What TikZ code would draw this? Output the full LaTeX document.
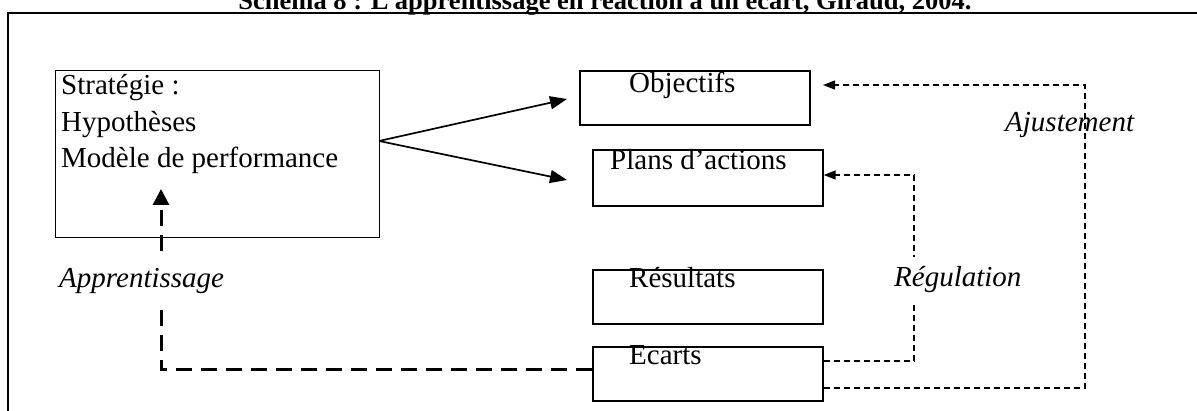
\documentclass[tikz,border=0pt]{standalone}
\usepackage{fontspec}
\setmainfont{Liberation Serif}
\usetikzlibrary{arrows.meta}
\begin{document}
\begin{tikzpicture}[x=1pt,y=-1pt,
  txt/.style={inner sep=0pt, anchor=base west, font=\fontsize{29}{35}\selectfont},
  itxt/.style={inner xsep=0pt, anchor=base west, font=\fontsize{29}{35}\selectfont\itshape},
  box/.style={draw, line width=1.7pt, inner sep=0pt, anchor=north west},
  solidarr/.style={line width=1.7pt, -{Triangle[length=17pt,width=13pt]}},
  thindash/.style={line width=1.3pt, dash pattern=on 6.5pt off 3.5pt, -{Triangle[length=12pt,width=9pt]}},
  thickdash/.style={line width=3pt, dash pattern=on 16pt off 9pt, -{Triangle[length=16pt,width=16pt]}}
]
\useasboundingbox (0,0) rectangle (1197,411);
\clip (0,0) rectangle (1197,411);
\fill[white] (0,0) rectangle (1197,411);

% title (cut at the top) and outer frame
\node[font=\fontsize{26.5}{30}\selectfont\bfseries, inner sep=0pt, anchor=base] (title) at (605,10)
  {Schéma 8 : L’apprentissage en réaction à un écart, Giraud, 2004.};
\draw[line width=2.3pt] (8.3,430) -- (8.3,13) -- (1220,13);

% boxes
\node[box, line width=1.2pt, minimum width=324pt, minimum height=167pt] (strat) at (55,70) {};
\node[box, minimum width=230pt, minimum height=54pt] (obj) at (579,70) {};
\node[box, minimum width=230pt, minimum height=56pt] (plans) at (592,149) {};
\node[box, minimum width=230pt, minimum height=54pt] (res) at (592,269) {};
\node[box, minimum width=230pt, minimum height=54pt] (ec) at (592,346) {};

% box texts
\node[txt] (t1) at (61,95) {Stratégie :};
\node[txt] (t2) at (61,132) {Hypothèses};
\node[txt] (t3) at (61,168) {Modèle de performance};
\node[txt] (tobj) at (629,93) {Objectifs};
\node[txt] (tplans) at (610,170) {Plans d’actions};
\node[txt] (tres) at (629,288) {Résultats};
\node[txt] (tec) at (629,365) {Ecarts};

% coordinates for connector ends
\coordinate (sout) at (379,141);
\coordinate (tipobj) at (567,99);
\coordinate (tipplans) at (567,180);
\coordinate (regB) at (914,361);
\coordinate (regT) at (914,175);
\coordinate (ajB) at (1085,388);
\coordinate (ajT) at (1085,85);
\coordinate (tipaj) at (823,85);
\coordinate (appB) at (161,370);
\coordinate (apptip) at (161,189);

% connectors
\draw[solidarr] (sout) -- (tipobj);
\draw[solidarr] (sout) -- (tipplans);
\draw[thindash] (ec.east |- regB) -- (regB) -- (regT) -- (plans.east |- regT);
\draw[thindash] (ec.east |- ajB) -- (ajB) -- (ajT) -- (tipaj);
\draw[thickdash] (ec.west |- appB) -- (appB) -- (apptip);

% labels
\node[itxt, fill=white, inner ysep=12pt] (lapp) at (59,288) {Apprentissage};
\node[itxt, fill=white, inner ysep=10pt] (lreg) at (894,287) {Régulation};
\node[itxt, inner ysep=0pt] (laj) at (1005,132) {Ajustement};
\end{tikzpicture}
\end{document}
